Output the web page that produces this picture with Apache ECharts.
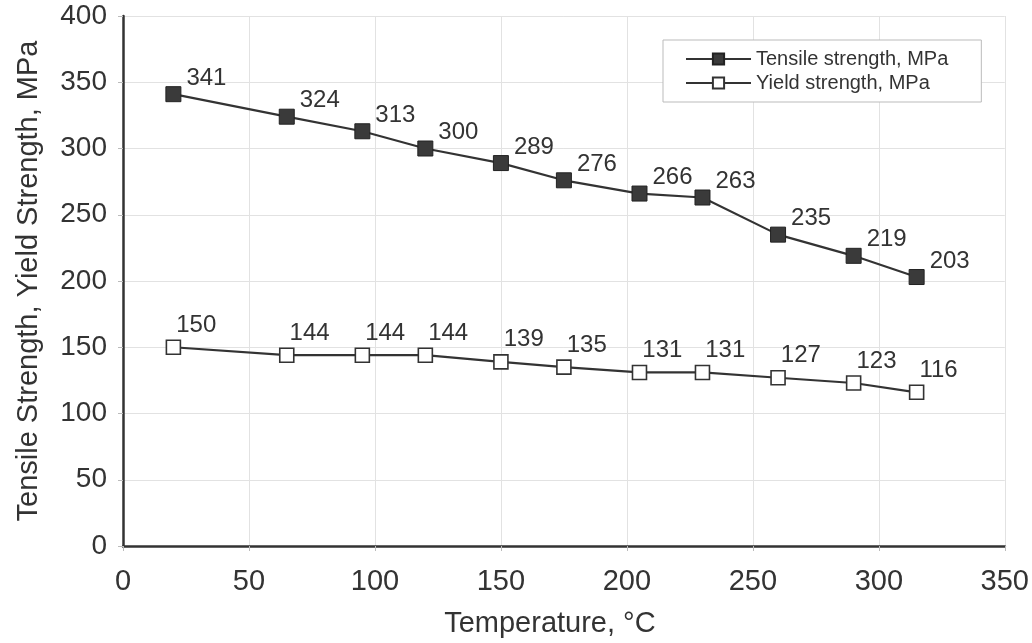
<!DOCTYPE html>
<html>
<head>
<meta charset="utf-8">
<script src="https://cdn.jsdelivr.net/npm/echarts@6/dist/echarts.min.js"></script>
<style>html,body{margin:0;padding:0;background:#fff}#c{width:1032px;height:643px}</style>
</head>
<body>
<div id="c"></div>
<script>
const temperatures = [20, 65, 95, 120, 150, 175, 205, 230, 260, 290, 315];
const tensile = [341, 324, 313, 300, 289, 276, 266, 263, 235, 219, 203];
const yieldS = [150, 144, 144, 144, 139, 135, 131, 131, 127, 123, 116];
const seriesNames = ['Tensile strength, MPa', 'Yield strength, MPa'];
const xName = 'Temperature, °C';
const yName = 'Tensile Strength, Yield Strength, MPa';

const FONT = "'Liberation Sans', Arial, sans-serif";
const DARK = '#333';
const pairs = (xs, ys) => xs.map((x, i) => [x, ys[i]]);

const chart = echarts.init(document.getElementById('c'), null, {renderer: 'canvas'});
chart.setOption({
  animation: false,
  backgroundColor: '#fff',
  textStyle: {fontFamily: FONT},
  grid: {left: 123, right: 27, top: 16, bottom: 95},
  legend: {
    orient: 'vertical',
    left: 663, top: 40,
    padding: [9, 33, 9, 22],
    borderColor: '#bbb', borderWidth: 1,
    backgroundColor: '#fff',
    itemWidth: 65, itemHeight: 14, itemGap: 4,
    textStyle: {fontFamily: FONT, fontSize: 20, color: DARK},
    data: seriesNames
  },
  xAxis: {
    type: 'value', min: 0, max: 350, interval: 50,
    name: xName, nameLocation: 'middle', nameGap: 63,
    nameTextStyle: {fontFamily: FONT, fontSize: 29, color: DARK, padding: [0, 28, 0, 0]},
    axisLine: {show: true, lineStyle: {color: DARK, width: 2.5}},
    axisTick: {show: true, length: 5, lineStyle: {color: '#bbb'}},
    axisLabel: {fontFamily: FONT, fontSize: 29, color: DARK, margin: 21},
    splitLine: {show: true, lineStyle: {color: '#e2e2e2', width: 1}}
  },
  yAxis: {
    type: 'value', min: 0, max: 400, interval: 50,
    name: yName, nameLocation: 'middle', nameGap: 80, nameRotate: 90,
    nameTextStyle: {fontFamily: FONT, fontSize: 29, color: DARK},
    axisLine: {show: true, lineStyle: {color: DARK, width: 2.5}},
    axisTick: {show: true, length: 5, lineStyle: {color: '#bbb'}},
    axisLabel: {fontFamily: FONT, fontSize: 28, color: DARK, margin: 16},
    splitLine: {show: true, lineStyle: {color: '#e2e2e2', width: 1}}
  },
  series: [
    {
      name: seriesNames[0], type: 'line',
      data: pairs(temperatures, tensile),
      symbol: 'rect', symbolSize: 15,
      lineStyle: {color: DARK, width: 2.2},
      itemStyle: {color: '#3a3a3a', borderColor: '#222', borderWidth: 1},
      label: {show: true, position: 'right', distance: 5, offset: [0, -16],
        fontFamily: FONT, fontSize: 24, color: DARK}
    },
    {
      name: seriesNames[1], type: 'line',
      data: pairs(temperatures, yieldS),
      symbol: 'rect', symbolSize: 14,
      lineStyle: {color: DARK, width: 2.2},
      itemStyle: {color: '#fff', borderColor: DARK, borderWidth: 1.6},
      label: {show: true, position: 'right', distance: 5, offset: [-10, -22],
        fontFamily: FONT, fontSize: 24, color: DARK}
    }
  ]
});
</script>
</body>
</html>
